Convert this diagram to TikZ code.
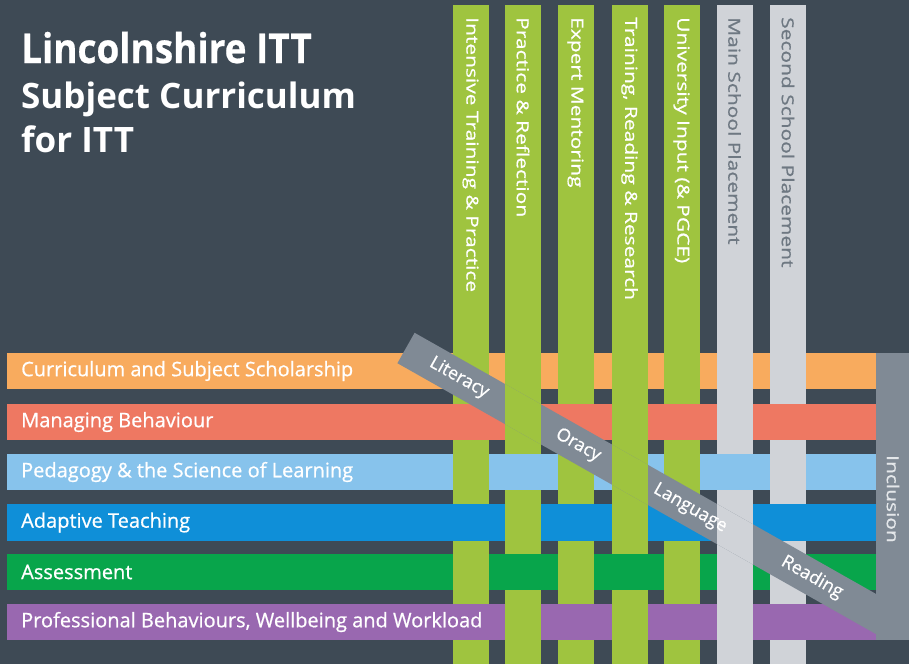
\documentclass[tikz,border=0pt]{standalone}
\usepackage{fontspec}
\setmainfont{Open Sans}
\newfontfamily\semib{Open Sans}[FakeBold=0.7]
\newfontfamily\xbold{Open Sans}[BoldFeatures={FakeBold=0.6}]
\definecolor{bg}{HTML}{3E4A55}
\definecolor{lgreen}{HTML}{9FC43F}
\definecolor{lgrey}{HTML}{D0D3D8}
\definecolor{corange}{HTML}{F8AB5E}
\definecolor{cred}{HTML}{EE7862}
\definecolor{clblue}{HTML}{87C3EC}
\definecolor{cblue}{HTML}{0F8FD8}
\definecolor{cgreen}{HTML}{08A54B}
\definecolor{cpurple}{HTML}{9968B0}
\definecolor{dgrey}{HTML}{808A95}
\definecolor{gtext}{HTML}{6E7882}
\definecolor{inctext}{HTML}{E4E7EA}
\tikzset{
  vlabel/.style={anchor=west, rotate=-90, inner sep=0pt, font=\semib\fontsize{16.5}{16.5}\selectfont},
  hlabel/.style={anchor=west, inner sep=0pt, text=white, font=\semib\fontsize{20}{20}\selectfont},
  dlabel/.style={inner sep=0pt, rotate=-29.5, text=white, font=\semib\fontsize{18}{18}\selectfont},
  titlelabel/.style={anchor=base west, inner sep=0pt, text=white, font=\bfseries}
}
\newcommand{\vstretch}[1]{\scalebox{1.27}[1]{#1}}
\begin{document}
\begin{tikzpicture}[x=1pt,y=-1pt]
\fill[bg] (0,0) rectangle (909,664);
\useasboundingbox (0,0) rectangle (909,664);
% horizontal bands
\fill[corange] (7,353) rectangle (876,389);
\fill[cred]    (7,404) rectangle (876,440);
\fill[clblue]  (7,454) rectangle (876,490);
\fill[cblue]   (7,504) rectangle (876,541);
\fill[cgreen]  (7,554) rectangle (876,590);
\fill[cpurple] (7,604) rectangle (876,640);
% vertical bars
\foreach \x in {453,505,558,612,664} \fill[lgreen] (\x,5) rectangle (\x+35.5,664);
\foreach \x in {717,770} \fill[lgrey] (\x,5) rectangle (\x+35.5,664);
% weave: horizontal band over vertical bar
\foreach \x in {453,558,664,770} {
  \fill[cred]    (\x-0.3,404) rectangle (\x+35.8,440);
  \fill[cblue]   (\x-0.3,504) rectangle (\x+35.8,541);
  \fill[cpurple] (\x-0.3,604) rectangle (\x+35.8,640);
}
\foreach \x in {505,717} \fill[clblue] (\x-0.3,454) rectangle (\x+35.8,490);
\foreach \x in {505,612} \fill[cgreen] (\x-0.3,554) rectangle (\x+35.8,590);
% diagonal band
\fill[dgrey] (414.6,332.8) -- (397.4,363.2) -- (877,634.7) -- (877,594.5) -- cycle;
\begin{scope}
  \clip (414.6,332.8) -- (397.4,363.2) -- (877,634.7) -- (877,594.5) -- cycle;
  \foreach \x in {505,612} \fill[lgreen] (\x,5) rectangle (\x+35.5,664);
  \fill[lgrey] (717,5) rectangle (752.5,664);
\end{scope}
% inclusion bar
\fill[dgrey] (876,353) rectangle (909,640);
% title
\node[titlelabel] (t1) at (21,63) {\scalebox{0.9}[1]{\xbold\bfseries\fontsize{41}{41}\selectfont Lincolnshire ITT}};
\node[titlelabel] (t2) at (21,108) {\fontsize{35}{35}\selectfont Subject Curriculum};
\node[titlelabel] (t3) at (21,152) {\fontsize{35}{35}\selectfont for ITT};
% vertical labels
\node[vlabel, text=white] (v1) at (470.5,17) {\vstretch{Intensive Training \& Practice}};
\node[vlabel, text=white] (v2) at (523,17) {\vstretch{Practice \& Reflection}};
\node[vlabel, text=white] (v3) at (575.5,17) {\vstretch{Expert Mentoring}};
\node[vlabel, text=white] (v4) at (629.5,17) {\vstretch{Training, Reading \& Research}};
\node[vlabel, text=white] (v5) at (681.5,17) {\vstretch{University Input (\& PGCE)}};
\node[vlabel, text=gtext] (v6) at (734.5,17) {\vstretch{Main School Placement}};
\node[vlabel, text=gtext] (v7) at (788,17) {\vstretch{Second School Placement}};
% horizontal labels
\node[hlabel] (h1) at (21,371) {Curriculum and Subject Scholarship};
\node[hlabel] (h2) at (21,422) {Managing Behaviour};
\node[hlabel] (h3) at (21,472) {Pedagogy \& the Science of Learning};
\node[hlabel] (h4) at (21,522.5) {Adaptive Teaching};
\node[hlabel] (h5) at (21,572) {Assessment};
\node[hlabel] (h6) at (21,622) {Professional Behaviours, Wellbeing and Workload};
% diagonal labels
\node[dlabel] (d1) at (459,378) {Literacy};
\node[dlabel] (d2) at (578,445.5) {Oracy};
\node[dlabel] (d3) at (690,508.5) {Language};
\node[dlabel] (d4) at (812,577.5) {Reading};
% inclusion label
\node[vlabel, anchor=center, text=inctext] (inc) at (893,499) {\vstretch{Inclusion}};
\end{tikzpicture}
\end{document}
